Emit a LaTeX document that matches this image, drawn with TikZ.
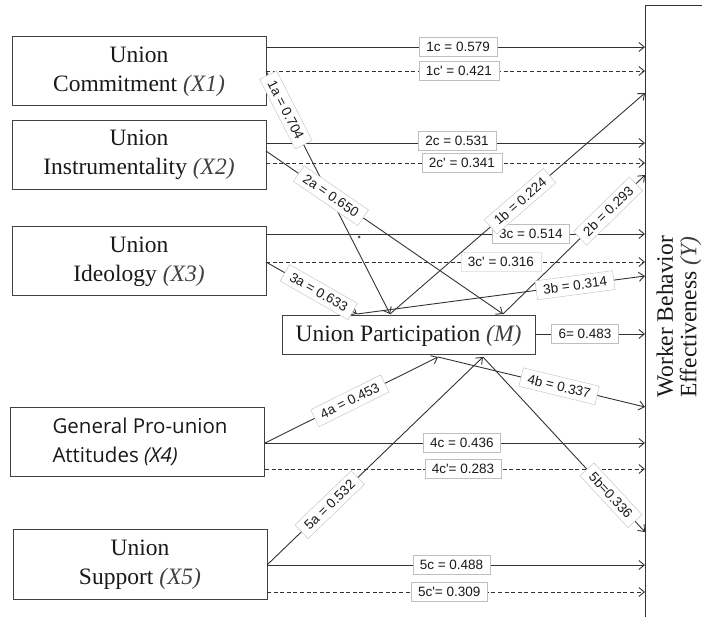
\documentclass[tikz,border=0pt]{standalone}
\usepackage{fontspec}
\setmainfont{Liberation Serif}
\newfontfamily\lblfont{Liberation Sans}
\newfontfamily\uifont{Open Sans}
\usetikzlibrary{arrows.meta}
\begin{document}
\begin{tikzpicture}[x=1pt,y=-1pt,
  conn/.style={draw=black!80, line width=0.9pt, -{Straight Barb[length=5.5pt,width=9pt]}},
  dconn/.style={conn, dash pattern=on 4pt off 2.6pt},
  box/.style={draw=black!75, line width=1pt, inner sep=0pt, align=center, text=black!90,
    font=\fontsize{23.5}{29}\selectfont},
  xbox/.style={box, minimum width=254pt, minimum height=69pt},
  lbl/.style={solid, fill=white, draw=black!25, line width=0.4pt, inner xsep=7pt, inner ysep=3.5pt,
    minimum height=19pt, font=\lblfont\fontsize{13.5}{15}\selectfont, text=black!90},
  flbl/.style={lbl, draw=black!10}]
\useasboundingbox (0,0) rectangle (702,617);

% boxes
\node[xbox] (X1) at (139,71.5) {Union\\Commitment \textit{\color{black!75}(X1)}};
\node[xbox] (X2) at (139,155) {Union\\Instrumentality \textit{\color{black!75}(X2)}};
\node[xbox] (X3) at (139,261.5) {Union\\Ideology \textit{\color{black!75}(X3)}};
\node[xbox, align=left, font=\uifont\fontsize{20.5}{29}\selectfont] (X4) at (137.5,442) {\hspace*{5pt}General Pro-union\\\hspace*{5pt}Attitudes \textit{(X4)}};
\node[xbox] (X5) at (140,564.5) {Union\\Support \textit{\color{black!75}(X5)}};
\node[box, minimum width=253pt, minimum height=39pt] (M) at (408.5,335.5) {Union Participation \textit{\color{black!75}(M)}};

% outcome box (open to the right and bottom)
\coordinate (Ybl) at (645,617);
\coordinate (Ytl) at (645,6);
\coordinate (Ytr) at (702,6);
\draw[draw=black!80, line width=1pt] (Ybl) -- (Ytl) -- (Ytr);
\node[rotate=90, anchor=west, align=left, inner sep=0pt, text=black!90,
  font=\fontsize{23.5}{23.5}\selectfont] (Y) at (679,398) {Worker Behavior\\Effectiveness \textit{\color{black!75}(Y)}};

% connector end points
\coordinate (s1c) at (266,47);   \coordinate (e1c) at (645,47);
\coordinate (s1d) at (266,71);   \coordinate (e1d) at (645,71);
\coordinate (s2c) at (266,143);  \coordinate (e2c) at (645,143);
\coordinate (s2d) at (266,163);  \coordinate (e2d) at (645,163);
\coordinate (s3c) at (266,234);  \coordinate (e3c) at (645,234);
\coordinate (s3d) at (266,262);  \coordinate (e3d) at (645,262);
\coordinate (s4c) at (265,443);  \coordinate (e4c) at (645,443);
\coordinate (s4d) at (265,469);  \coordinate (e4d) at (645,469);
\coordinate (s5c) at (267,565);  \coordinate (e5c) at (645,565);
\coordinate (s5d) at (267,592);  \coordinate (e5d) at (645,592);
\coordinate (s2a) at (266,151);
\coordinate (mt1) at (390,314);
\coordinate (mt2) at (503,314);
\coordinate (mt3) at (357,314);
\coordinate (mb4) at (438,357);
\coordinate (mb5) at (483,357);
\coordinate (e1b) at (645,93);
\coordinate (e2b) at (645,175);
\coordinate (e3b) at (645,276);
\coordinate (s6) at (535,334);   \coordinate (e6) at (645,334);
\coordinate (e4b) at (645,407);
\coordinate (e5b) at (645,532);

% direct paths
\draw[conn]  (s1c) -- (e1c) node[lbl, pos=0.507] {1c = 0.579};
\draw[dconn] (s1d) -- (e1d) node[lbl, pos=0.509] {1c' = 0.421};
\draw[conn]  (s2c) -- (e2c) node[lbl, pos=0.504, yshift=2pt] {2c = 0.531};
\draw[dconn] (s2d) -- (e2d) node[lbl, pos=0.517] {2c' = 0.341};
\draw[conn]  (s3c) -- (e3c) node[lbl, pos=0.699] {3c = 0.514};
\draw[dconn] (s3d) -- (e3d) node[flbl, pos=0.62] {3c' = 0.316};
\draw[conn]  (s4c) -- (e4c) node[lbl, pos=0.518] {4c = 0.436};
\draw[dconn] (s4d) -- (e4d) node[lbl, pos=0.521] {4c'= 0.283};
\draw[conn]  (s5c) -- (e5c) node[lbl, pos=0.488] {5c = 0.488};
\draw[dconn] (s5d) -- (e5d) node[lbl, pos=0.482] {5c'= 0.309};

% a paths
\draw[conn] (s1d) -- (mt1) node[lbl, pos=0.16, sloped] {1a = 0.704};
\draw[conn] (s2a) -- (mt2) node[lbl, pos=0.274, sloped] {2a = 0.650};
\draw[conn] (s3d) -- (mt3) node[lbl, pos=0.58, sloped] {3a = 0.633};
\draw[conn] (s4c) -- (mb4) node[lbl, pos=0.49, sloped] {4a = 0.453};
\draw[conn] (s5c) -- (mb5) node[lbl, pos=0.29, sloped] {5a = 0.532};

% b paths
\draw[conn] (mt1) -- (e1b) node[lbl, pos=0.51, sloped] {1b = 0.224};
\draw[conn] (mt2) -- (e2b) node[lbl, pos=0.74, sloped] {2b = 0.293};
\draw[conn] (mt3) -- (e3b) node[lbl, pos=0.757, sloped] {3b = 0.314};
\draw[conn] (s6) -- (e6) node[lbl, pos=0.455] {6= 0.483};
\draw[conn] (mb4) -- (e4b) node[lbl, pos=0.585, sloped] {4b = 0.337};
\draw[conn] (mb5) -- (e5b) node[lbl, pos=0.79, sloped] {5b=0.336};

% stray dot
\fill[black!70] (359,237) circle (1.5pt);
\end{tikzpicture}
\end{document}
